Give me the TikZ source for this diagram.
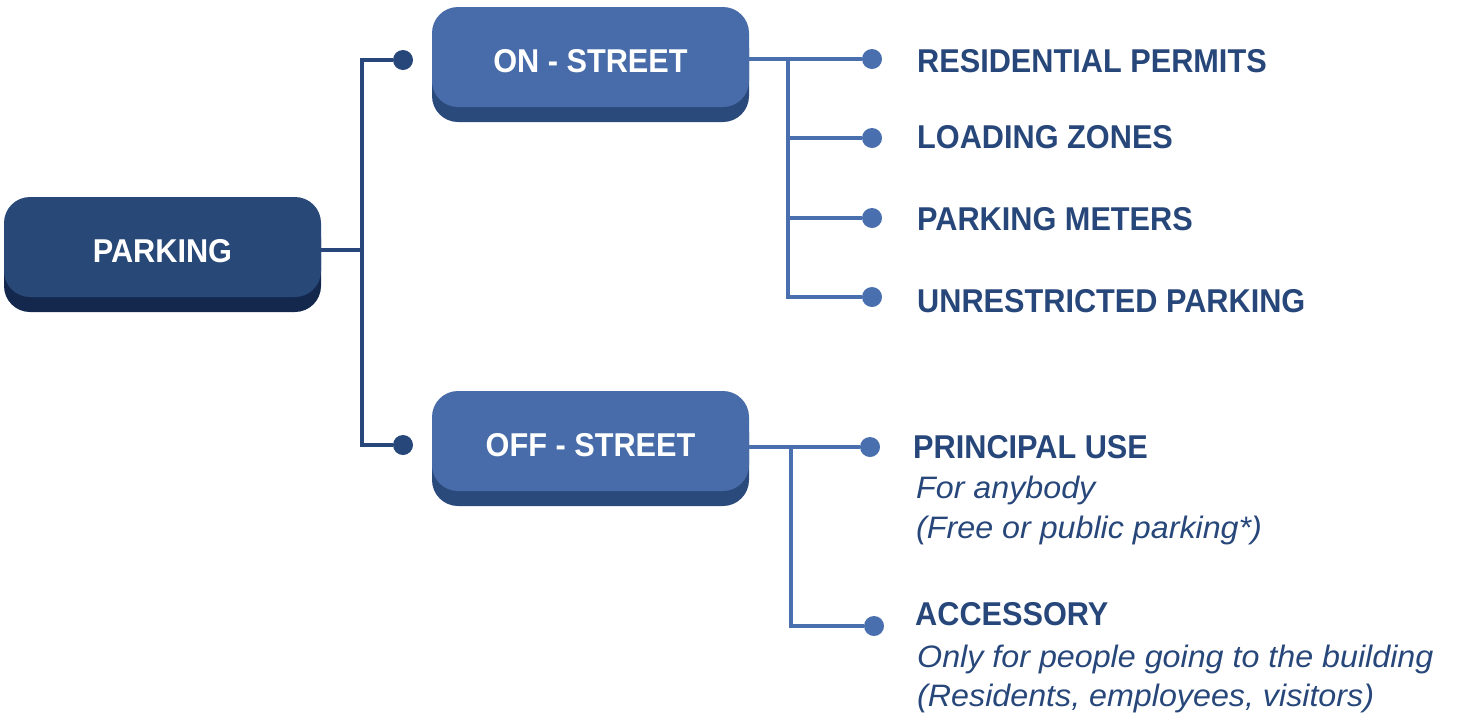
\documentclass[tikz,border=0pt]{standalone}
\usepackage{fontspec}
\setmainfont{Liberation Sans}[FakeStretch=0.93]
\newfontfamily\notefont{Liberation Sans}[FakeStretch=1.04]
\usetikzlibrary{shadows}
\definecolor{rootfill}{HTML}{284878}
\definecolor{rootshade}{HTML}{14284E}
\definecolor{subfill}{HTML}{476CA9}
\definecolor{subshade}{HTML}{2A4A7C}
\definecolor{darklinecol}{HTML}{27477A}
\definecolor{lightlinecol}{HTML}{4A6FAE}
\definecolor{labeltext}{HTML}{27477A}
\begin{document}
\begin{tikzpicture}[x=1pt,y=-1pt,
  box/.style={rounded corners=26pt, minimum width=317pt, minimum height=100pt,
    inner sep=0pt, text=white, text height=31.6pt, text depth=0pt,
    font=\fontsize{33}{40}\selectfont\bfseries},
  rootbox/.style={box, fill=rootfill,
    general shadow={fill=rootshade, shadow yshift=-15pt}},
  subbox/.style={box, fill=subfill,
    general shadow={fill=subshade, shadow yshift=-15pt}},
  dot/.style={circle, inner sep=0pt, minimum size=20pt},
  darkdot/.style={dot, fill=darklinecol},
  lightdot/.style={dot, fill=lightlinecol},
  darklink/.style={draw=darklinecol, line width=4.5pt},
  lightlink/.style={draw=lightlinecol, line width=4.5pt},
  lab/.style={anchor=base west, inner sep=0pt, text=labeltext,
    font=\fontsize{33}{40}\selectfont\bfseries},
  note/.style={lab, font=\notefont\fontsize{31}{40}\selectfont\itshape}]
\useasboundingbox (0,0) rectangle (1465,713);

% boxes
\node[rootbox] (parking) at (162.5,247) {PARKING};
\node[subbox] (on) at (590.5,57) {ON - STREET};
\node[subbox] (off) at (590.5,441) {OFF - STREET};

% end dots
\node[darkdot] (d1) at (403,60) {};
\node[darkdot] (d2) at (403,445) {};
\node[lightdot] (r1) at (872,59) {};
\node[lightdot] (r2) at (872,138) {};
\node[lightdot] (r3) at (872,218) {};
\node[lightdot] (r4) at (872,297) {};
\node[lightdot] (p1) at (870,447) {};
\node[lightdot] (p2) at (874,626) {};

% junctions
\coordinate (pj) at (362,250);
\coordinate (oj) at (788,59);
\coordinate (fj) at (791,447);

% connectors
\draw[darklink] (parking.east |- pj) -- (pj);
\draw[darklink] (d1) -| (pj) |- (d2);
\draw[lightlink] (on.east |- r1) -- (r1);
\draw[lightlink] (oj) |- (r2);
\draw[lightlink] (oj) |- (r3);
\draw[lightlink] (oj) |- (r4);
\draw[lightlink] (off.east |- p1) -- (p1);
\draw[lightlink] (fj) |- (p2);

% labels
\node[lab] (l1) at (917,72) {RESIDENTIAL PERMITS};
\node[lab] (l2) at (917,148) {LOADING ZONES};
\node[lab] (l3) at (917,230) {PARKING METERS};
\node[lab] (l4) at (917,312) {UNRESTRICTED PARKING};
\node[lab] (l5) at (913,458) {PRINCIPAL USE};
\node[note] (l5a) at (916,498) {For anybody};
\node[note] (l5b) at (916,538) {(Free or public parking*)};
\node[lab] (l6) at (915,625) {ACCESSORY};
\node[note] (l6a) at (917,667) {Only for people going to the building};
\node[note] (l6b) at (917,706) {(Residents, employees, visitors)};
\end{tikzpicture}
\end{document}
